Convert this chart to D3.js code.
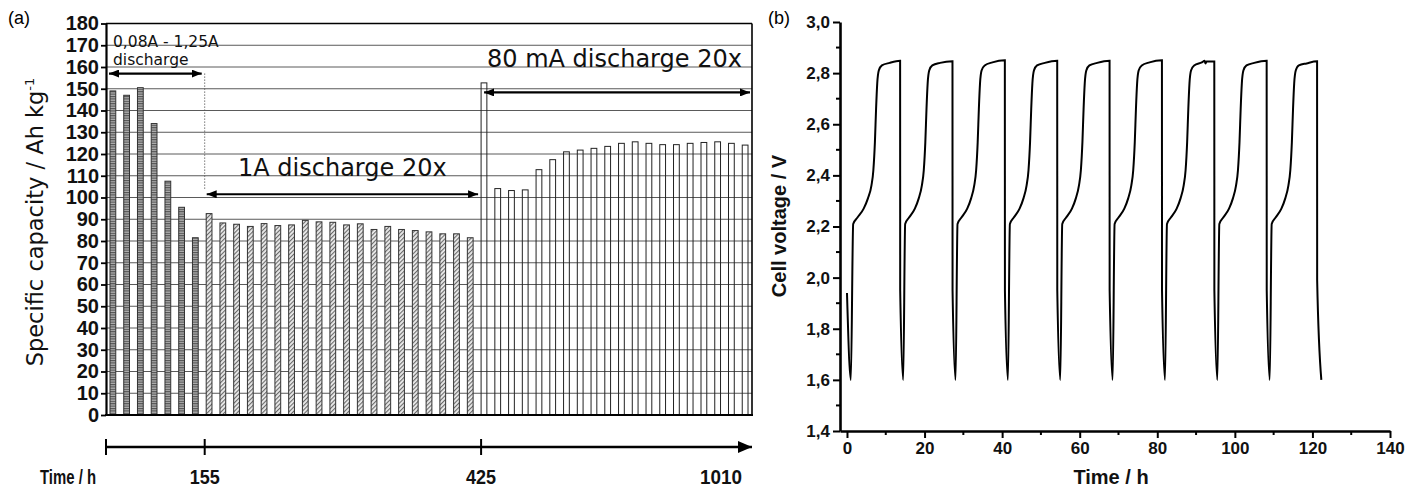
<!DOCTYPE html>
<html><head><meta charset="utf-8">
<script src="https://cdn.jsdelivr.net/npm/d3@7"></script>
<style>body{margin:0;background:#fff} svg{display:block}</style>
</head><body>
<svg id="c" width="1405" height="489"></svg>
<script>
// ---------- DATA (panel a) ----------
const seriesNames = ["0,08A - 1,25A discharge", "1A discharge 20x", "80 mA discharge 20x"];
const capacityA = [149, 147, 150.5, 134, 107.5, 95.5, 81.5];
const capacityB = [92.6, 88.3, 87.7, 86.7, 88, 87.1, 87.4, 89.5, 88.8, 88.6, 87.4, 87.9, 85.3, 86.7, 85.3, 84.8, 84.2, 83.3, 83.3, 81.5];
const capacityC = [152.7, 104.1, 103.2, 103.5, 112.8, 117.4, 121, 121.8, 122.6, 123.5, 124.9, 125.6, 124.9, 124.3, 124.3, 124.9, 125.3, 125.6, 124.9, 124.1];
const capTicks = [0,10,20,30,40,50,60,70,80,90,100,110,120,130,140,150,160,170,180];
const timeTickLabels = ["155", "425", "1010"];
// ---------- DATA (panel b) : [time h, voltage V] ----------
const cellVoltage = [
 [0,1.94],
 [1.0,1.60],[1.6,2.21],[2.7,2.235],[4.3,2.27],[5.4,2.31],[6.3,2.36],[6.8,2.42],[7.2,2.53],[7.5,2.66],[7.8,2.76],[8.2,2.81],[9.0,2.83],[11.0,2.84],[13.7,2.848],[13.72,1.95],
 [14.5,1.60],[15.0,2.21],[16.0,2.235],[17.5,2.27],[18.5,2.31],[19.3,2.36],[19.8,2.42],[20.2,2.53],[20.5,2.66],[20.8,2.76],[21.2,2.81],[22.0,2.83],[24.0,2.84],[27.2,2.846],[27.22,1.95],
 [28.0,1.60],[28.5,2.21],[29.5,2.235],[31.0,2.27],[32.0,2.31],[32.8,2.36],[33.3,2.42],[33.7,2.53],[34.0,2.66],[34.3,2.76],[34.7,2.81],[35.5,2.83],[37.5,2.842],[40.7,2.85],[40.72,1.95],
 [41.5,1.60],[42.0,2.21],[43.0,2.235],[44.5,2.27],[45.5,2.31],[46.3,2.36],[46.8,2.42],[47.2,2.53],[47.5,2.66],[47.8,2.76],[48.2,2.81],[49.0,2.83],[51.0,2.84],[54.2,2.848],[54.22,1.95],
 [55.0,1.60],[55.5,2.21],[56.5,2.235],[58.0,2.27],[59.0,2.31],[59.8,2.36],[60.3,2.42],[60.7,2.53],[61.0,2.66],[61.3,2.76],[61.7,2.81],[62.5,2.83],[64.5,2.84],[67.7,2.848],[67.72,1.95],
 [68.5,1.60],[69.0,2.21],[70.0,2.235],[71.5,2.27],[72.5,2.31],[73.3,2.36],[73.8,2.42],[74.2,2.53],[74.5,2.66],[74.8,2.76],[75.2,2.81],[76.0,2.83],[78.0,2.842],[81.2,2.85],[81.22,1.95],
 [82.0,1.60],[82.5,2.21],[83.5,2.235],[85.0,2.27],[86.0,2.31],[86.8,2.36],[87.3,2.42],[87.7,2.53],[88.0,2.66],[88.3,2.76],[88.7,2.81],[89.5,2.83],[91.5,2.842],[92.2,2.848],[92.4,2.838],[92.7,2.845],[94.7,2.845],[94.72,1.95],
 [95.5,1.60],[96.0,2.21],[97.0,2.235],[98.5,2.27],[99.5,2.31],[100.3,2.36],[100.8,2.42],[101.2,2.53],[101.5,2.66],[101.8,2.76],[102.2,2.81],[103.0,2.83],[105.0,2.84],[108.2,2.848],[108.22,1.95],
 [109.0,1.60],[109.5,2.21],[110.5,2.235],[112.0,2.27],[113.0,2.31],[113.8,2.36],[114.3,2.42],[114.7,2.53],[115.0,2.66],[115.3,2.76],[115.7,2.81],[116.5,2.83],[118.5,2.838],[121.2,2.846],[121.22,1.99],
 [122.3,1.60]
];
const timeTicks = [0,20,40,60,80,100,120,140];
const timeMinor = [10,30,50,70,90,110,130];
const voltTicks = [1.4,1.6,1.8,2.0,2.2,2.4,2.6,2.8,3.0];
const voltMinor = [1.5,1.7,1.9,2.1,2.3,2.5,2.7,2.9];

// ---------- SETUP ----------
const svg = d3.select("#c");
svg.append("rect").attr("width",1405).attr("height",489).attr("fill","#fff");
const defs = svg.append("defs");
const pA = defs.append("pattern").attr("id","patA").attr("patternUnits","userSpaceOnUse").attr("width",4).attr("height",2.4);
pA.append("rect").attr("width",4).attr("height",2.4).attr("fill","#b0b0b0");
pA.append("rect").attr("width",4).attr("height",1.1).attr("fill","#505050");
const pB = defs.append("pattern").attr("id","patB").attr("patternUnits","userSpaceOnUse").attr("width",3).attr("height",3).attr("patternTransform","rotate(45)");
pB.append("rect").attr("width",3).attr("height",3).attr("fill","#ececec");
pB.append("rect").attr("width",1.1).attr("height",3).attr("fill","#6a6a6a");
defs.append("marker").attr("id","ah").attr("viewBox","0 0 10 8").attr("refX",10).attr("refY",4)
  .attr("markerWidth",10).attr("markerHeight",8).attr("markerUnits","userSpaceOnUse").attr("orient","auto-start-reverse")
  .append("path").attr("d","M0,0L10,4L0,8Z").attr("fill","#000");
defs.append("marker").attr("id","ahBig").attr("viewBox","0 0 14 12").attr("refX",14).attr("refY",6)
  .attr("markerWidth",14).attr("markerHeight",12).attr("markerUnits","userSpaceOnUse").attr("orient","auto")
  .append("path").attr("d","M0,0L14,6L0,12Z").attr("fill","#000");

// ---------- PANEL A ----------
const bars = [
  ...capacityA.map(v=>({v, s:0})),
  ...capacityB.map(v=>({v, s:1})),
  ...capacityC.map(v=>({v, s:2}))
];
const L = 106, R = 752, T = 23.5, B = 415;
const xB = d3.scaleBand().domain(d3.range(bars.length)).range([L,R]).paddingInner(0.58).paddingOuter(0.29);
const yC = d3.scaleLinear().domain([0,180]).range([B,T]);
const ga = svg.append("g");

// grid
ga.append("g").selectAll("line").data(capTicks.filter(t=>t>0 && t<180)).join("line")
  .attr("x1",L).attr("x2",R).attr("y1",d=>yC(d)).attr("y2",d=>yC(d))
  .attr("stroke","#5a5a5a").attr("stroke-width",1);

// bars
const fills = ["url(#patA)","url(#patB)","none"];
ga.append("g").selectAll("rect").data(bars).join("rect")
  .attr("x",(d,i)=>xB(i)).attr("width",xB.bandwidth())
  .attr("y",d=>yC(d.v)).attr("height",d=>B-yC(d.v))
  .attr("fill",d=>fills[d.s]).attr("stroke",d=>d.s===2?"#222":"#333").attr("stroke-width",1);

// frame
ga.append("line").attr("x1",L).attr("x2",R).attr("y1",T).attr("y2",T).attr("stroke","#000").attr("stroke-width",1.6);
ga.append("line").attr("x1",R).attr("x2",R).attr("y1",T).attr("y2",B).attr("stroke","#000").attr("stroke-width",1.6);
ga.append("line").attr("x1",L-1).attr("x2",R+1).attr("y1",B).attr("y2",B).attr("stroke","#000").attr("stroke-width",2.2);

// y axis
const axA = ga.append("g").attr("transform",`translate(${L},0)`)
  .call(d3.axisLeft(yC).tickValues(capTicks).tickSize(5).tickPadding(2).tickSizeOuter(0));
axA.select(".domain").attr("stroke-width",2.2);
axA.selectAll(".tick line").attr("stroke-width",1.8);
axA.selectAll("text").attr("font-family","Liberation Sans, Arial, sans-serif").attr("font-weight","bold").attr("font-size",20).attr("fill","#111");

ga.append("text").attr("transform","translate(43,222) rotate(-90)").attr("text-anchor","middle")
  .attr("font-family","DejaVu Sans, sans-serif").attr("font-size",22.5).attr("fill","#111")
  .text("Specific capacity / Ah kg").append("tspan").attr("dy",-9).attr("font-size",13).text("-1");

ga.append("text").attr("x",8).attr("y",24).attr("font-family","Liberation Sans, Arial, sans-serif").attr("font-size",18).text("(a)");

// annotations
const xEdge = i => xB(i);
const divA = xEdge(capacityA.length) - 1.5;
const divB = xEdge(capacityA.length + capacityB.length);
ga.append("line").attr("x1",divA).attr("x2",divA).attr("y1",yC(157)).attr("y2",yC(103.5))
  .attr("stroke","#555").attr("stroke-width",1).attr("stroke-dasharray","1.2,1.8");
const arrows = [
  {v:157, x1:L+3, x2:divA-3},
  {v:101.5, x1:divA+2, x2:divB-3},
  {v:148.3, x1:divB+3, x2:R-2}
];
ga.append("g").selectAll("line").data(arrows).join("line")
  .attr("x1",d=>d.x1).attr("x2",d=>d.x2).attr("y1",d=>yC(d.v)).attr("y2",d=>yC(d.v))
  .attr("stroke","#000").attr("stroke-width",2.2)
  .attr("marker-start","url(#ah)").attr("marker-end","url(#ah)");
ga.append("text").attr("x",113).attr("y",46.5).attr("font-family","DejaVu Sans, sans-serif").attr("font-size",15.5).attr("fill","#111").text("0,08A - 1,25A");
ga.append("text").attr("x",113).attr("y",64.5).attr("font-family","DejaVu Sans, sans-serif").attr("font-size",15.5).attr("fill","#111").text("discharge");
ga.append("text").attr("x",238).attr("y",176).attr("font-family","DejaVu Sans, sans-serif").attr("font-size",24).attr("fill","#111").text(seriesNames[1]);
ga.append("text").attr("x",487).attr("y",67).attr("font-family","DejaVu Sans, sans-serif").attr("font-size",24).attr("fill","#111").text(seriesNames[2]);

// time line
const tlY = 447;
const tlTicks = [L, divA, divB];
ga.append("line").attr("x1",L).attr("x2",R).attr("y1",tlY).attr("y2",tlY)
  .attr("stroke","#000").attr("stroke-width",2.6).attr("marker-end","url(#ahBig)");
ga.append("g").selectAll("line").data(tlTicks).join("line")
  .attr("x1",d=>d).attr("x2",d=>d).attr("y1",tlY-8).attr("y2",tlY+8).attr("stroke","#000").attr("stroke-width",2);
const tlLabels = [
  {t:"Time / h", x:68, w:56},
  {t:timeTickLabels[0], x:divA, w:30},
  {t:timeTickLabels[1], x:divB, w:30},
  {t:timeTickLabels[2], x:721, w:42}
];
ga.append("g").selectAll("text").data(tlLabels).join("text")
  .attr("x",d=>d.x).attr("y",484).attr("text-anchor","middle")
  .attr("font-family","Liberation Sans Narrow, Liberation Sans, Arial, sans-serif").attr("font-weight","bold").attr("font-size",21)
  .attr("textLength",d=>d.w).attr("lengthAdjust","spacingAndGlyphs").attr("fill","#111").text(d=>d.t);

// ---------- PANEL B ----------
const xT = d3.scaleLinear().domain([-1.8,140]).range([840,1390]);
const yV = d3.scaleLinear().domain([1.4,3.0]).range([431,22]);
const gb = svg.append("g");
const fmt = d => d3.format(".1f")(d).replace(".",",");

const axX = gb.append("g").attr("transform",`translate(0,${yV(1.4)})`)
  .call(d3.axisBottom(xT).tickValues(timeTicks).tickSize(7).tickPadding(4).tickSizeOuter(0));
gb.append("g").attr("transform",`translate(0,${yV(1.4)})`).selectAll("line").data(timeMinor).join("line")
  .attr("x1",d=>xT(d)).attr("x2",d=>xT(d)).attr("y1",0).attr("y2",4).attr("stroke","#000").attr("stroke-width",2);
const axY = gb.append("g").attr("transform",`translate(${xT(-1.8)},0)`)
  .call(d3.axisLeft(yV).tickValues(voltTicks).tickFormat(fmt).tickSize(7).tickPadding(3).tickSizeOuter(0));
gb.append("g").attr("transform",`translate(${xT(-1.8)},0)`).selectAll("line").data(voltMinor).join("line")
  .attr("y1",d=>yV(d)).attr("y2",d=>yV(d)).attr("x1",0).attr("x2",-4).attr("stroke","#000").attr("stroke-width",2);
[axX,axY].forEach(a=>{
  a.select(".domain").attr("stroke-width",2.6);
  a.selectAll(".tick line").attr("stroke-width",2);
  a.selectAll("text").attr("font-family","Liberation Sans, Arial, sans-serif").attr("font-weight","bold").attr("font-size",17).attr("fill","#111");
});

gb.append("path").datum(cellVoltage)
  .attr("d", d3.line().x(d=>xT(d[0])).y(d=>yV(d[1])).curve(d3.curveMonotoneX))
  .attr("fill","none").attr("stroke","#000").attr("stroke-width",2);

gb.append("text").attr("transform","translate(786,226) rotate(-90)").attr("text-anchor","middle")
  .attr("font-family","Liberation Sans, Arial, sans-serif").attr("font-weight","bold").attr("font-size",20).attr("fill","#111")
  .text("Cell voltage / V");
gb.append("text").attr("x",1111).attr("y",484).attr("text-anchor","middle")
  .attr("font-family","Liberation Sans, Arial, sans-serif").attr("font-weight","bold").attr("font-size",20).attr("fill","#111")
  .text("Time / h");
gb.append("text").attr("x",768).attr("y",24).attr("font-family","Liberation Sans, Arial, sans-serif").attr("font-size",18).text("(b)");
</script>
</body></html>
